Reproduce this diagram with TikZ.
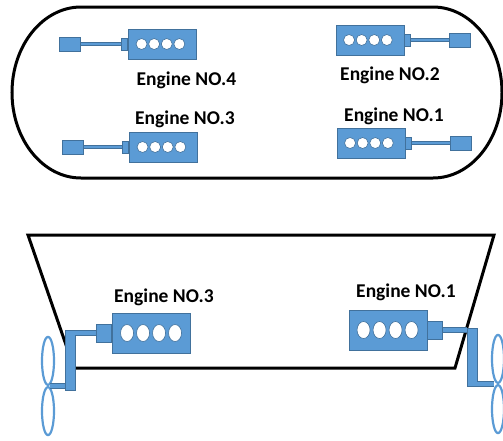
\documentclass[tikz,border=0pt]{standalone}
\usepackage{fontspec}
\setmainfont{Carlito}
\usepackage{tikz}
\usetikzlibrary{positioning,shapes.geometric}

\definecolor{engblue}{RGB}{91,155,213}
\definecolor{engedge}{RGB}{65,113,156}

\begin{document}
\begin{tikzpicture}[
    x=1pt, y=1pt,
    hull/.style={draw=black, line width=3pt, line join=miter},
    engine/.style={rectangle, draw=engedge, fill=engblue, line width=0.9pt, minimum width=68pt, minimum height=30pt, inner sep=0pt},
    bigengine/.style={engine, minimum width=78pt, minimum height=40pt},
    cyl/.style={circle, draw=engedge, fill=white, line width=0.6pt, minimum size=11pt, inner sep=0pt},
    bigcyl/.style={ellipse, draw=engedge, fill=white, line width=0.6pt, minimum width=13pt, minimum height=17pt, inner sep=0pt},
    plug/.style={rectangle, draw=engedge, fill=engblue, line width=0.8pt, minimum width=6pt, minimum height=12pt, inner sep=0pt},
    bigplug/.style={plug, minimum width=15pt, minimum height=18pt},
    tipbox/.style={rectangle, draw=engedge, fill=engblue, line width=0.8pt, minimum width=21pt, minimum height=14pt, inner sep=0pt},
    shaft/.style={draw=engedge, line width=0.7pt, double=engblue, double distance=2.8pt},
    bigshaft/.style={draw=engedge, line width=0.7pt, double=engblue, double distance=4.6pt},
    crank/.style={rectangle, draw=engedge, fill=engblue, line width=0.8pt, minimum width=10pt, inner sep=0pt},
    blade/.style={ellipse, draw=engblue, line width=2.2pt, minimum width=12pt, minimum height=48pt, inner sep=0pt},
    label/.style={font=\fontsize{19.5}{22}\selectfont\bfseries, inner sep=0pt}
]
\useasboundingbox (0,0) rectangle (503,-440);

% top view of the hull
\draw[hull] (81,-7) -- (433,-7)
    arc[start angle=90, end angle=-90, x radius=69, y radius=85.5]
    -- (81,-178)
    arc[start angle=270, end angle=90, x radius=69, y radius=85.5] -- cycle;

% engine no.4
\node[engine] (b4) at (162.5,-44) {};
\foreach \k in {0,...,3}
    \node[cyl] (b4c\k) at ([xshift=13.5+\k*12.6]b4.west) {};
\node[plug, left=0pt of b4] (p4) {};
\node[tipbox, left=40pt of p4] (t4) {};
\draw[shaft] (p4) -- (t4);
\node[label] (l4) at (186.5,-80) {Engine NO.4};

% engine no.3
\node[engine] (b3) at (163.5,-147) {};
\foreach \k in {0,...,3}
    \node[cyl] (b3c\k) at ([xshift=13.5+\k*12.6]b3.west) {};
\node[plug, left=0pt of b3] (p3) {};
\node[tipbox, left=38pt of p3] (t3) {};
\draw[shaft] (p3) -- (t3);
\node[label] (l3) at (185,-119) {Engine NO.3};

% engine no.2
\node[engine] (b2) at (370,-40) {};
\foreach \k in {0,...,3}
    \node[cyl] (b2c\k) at ([xshift=13.5+\k*12.6]b2.west) {};
\node[plug, right=0pt of b2] (p2) {};
\node[tipbox, right=38pt of p2] (t2) {};
\draw[shaft] (p2) -- (t2);
\node[label] (l2) at (390,-75) {Engine NO.2};

% engine no.1
\node[engine] (b1) at (371,-143) {};
\foreach \k in {0,...,3}
    \node[cyl] (b1c\k) at ([xshift=13.5+\k*12.6]b1.west) {};
\node[plug, right=0pt of b1] (p1) {};
\node[tipbox, right=38pt of p1] (t1) {};
\draw[shaft] (p1) -- (t1);
\node[label] (l1) at (394,-116) {Engine NO.1};

% side view of the hull
\draw[hull] (28,-235) -- (494,-235) -- (455,-368) -- (74,-368) -- cycle;

% engine no.3, side
\node[bigengine] (sb3) at (151.5,-333) {};
\foreach \k in {0,...,3}
    \node[bigcyl] (sb3c\k) at ([xshift=15+\k*16]sb3.west) {};
\node[bigplug, left=0pt of sb3] (sp3) {};
\node[crank, minimum height=60pt] (v3) at (70,-360) {};
\draw[bigshaft] (sp3.west) -- (sp3.west -| v3.east);
\coordinate (h3) at (48,-386);
\node[blade, above=0pt of h3] (u3) {};
\node[blade, below=0pt of h3] (d3) {};
\draw[bigshaft] (v3.west |- h3) -- ([xshift=2]h3);
\node[label] (sl3) at (164,-297) {Engine NO.3};

% engine no.1, side
\node[bigengine] (sb1) at (388,-330) {};
\foreach \k in {0,...,3}
    \node[bigcyl] (sb1c\k) at ([xshift=15+\k*16]sb1.west) {};
\node[bigplug, right=0pt of sb1] (sp1) {};
\node[crank, minimum height=58pt] (v1) at (472,-357) {};
\draw[bigshaft] (sp1.east) -- (sp1.east -| v1.west);
\coordinate (h1) at (498,-384);
\node[blade, above=0pt of h1] (u1) {};
\node[blade, below=0pt of h1] (d1) {};
\draw[bigshaft] (v1.east |- h1) -- ([xshift=-4]h1);
\node[label] (sl1) at (406,-292) {Engine NO.1};
\end{tikzpicture}
\end{document}
